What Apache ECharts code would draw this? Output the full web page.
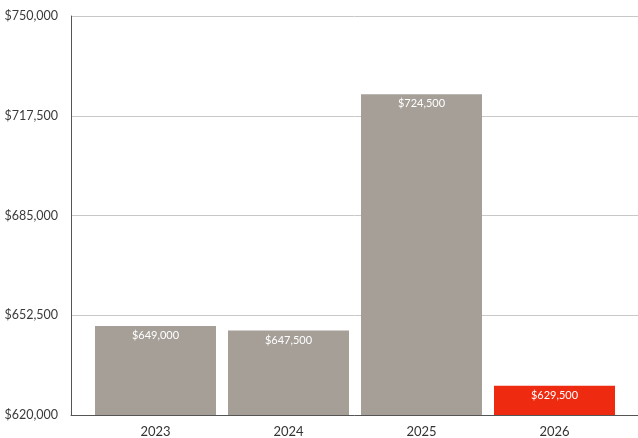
<!DOCTYPE html>
<html>
<head>
<meta charset="utf-8">
<script src="https://cdn.jsdelivr.net/npm/echarts@6/dist/echarts.min.js"></script>
<style>
  html, body { margin: 0; padding: 0; background: #fff; }
  #chart { width: 638px; height: 438px; }
</style>
</head>
<body>
<div id="chart"></div>
<script>
// Median price by year
const years = ['2023', '2024', '2025', '2026'];
const prices = [649000, 647500, 724500, 629500];
const barColors = ['#a59f98', '#a59f98', '#a59f98', '#ee2a10'];
const yTicks = [620000, 652500, 685000, 717500, 750000];

const fmt = v => '$' + v.toLocaleString('en-US');

const chart = echarts.init(document.getElementById('chart'));
chart.setOption({
  animation: false,
  textStyle: { fontFamily: 'Lato' },
  grid: [
    { left: 71, right: 0, top: 16, bottom: 23 },
    { left: 89, right: 17, top: 16, bottom: 23 }
  ],
  xAxis: [
    {
      gridIndex: 0, type: 'value', min: 0, max: 1,
      axisLine: { show: true, lineStyle: { color: '#555', width: 1 } },
      axisTick: { show: false }, axisLabel: { show: false }, splitLine: { show: false }
    },
    {
      gridIndex: 1, type: 'category', data: years,
      axisLine: { show: false }, axisTick: { show: false },
      axisLabel: { color: '#333', fontSize: 13, margin: 10, fontFamily: 'Lato' }
    }
  ],
  yAxis: [
    {
      gridIndex: 0, type: 'value',
      min: yTicks[0], max: yTicks[yTicks.length - 1], interval: 32500,
      axisLine: { show: true, lineStyle: { color: '#555', width: 1 } },
      axisTick: { show: false },
      axisLabel: { color: '#3a3a3a', fontSize: 12.5, margin: 13, padding: [3, 0, 0, 0], formatter: fmt },
      splitLine: { lineStyle: { color: '#c8c8c8', width: 1 } }
    },
    {
      gridIndex: 1, type: 'value',
      min: yTicks[0], max: yTicks[yTicks.length - 1],
      show: false, splitLine: { show: false }
    }
  ],
  series: [{
    type: 'bar',
    xAxisIndex: 1, yAxisIndex: 1,
    barWidth: 121,
    data: prices.map((v, i) => ({ value: v, itemStyle: { color: barColors[i] } })),
    label: {
      show: true, position: 'insideTop', distance: 4,
      color: '#fff', fontSize: 11, fontFamily: 'Lato',
      formatter: p => fmt(p.value)
    }
  }]
});
</script>
</body>
</html>
